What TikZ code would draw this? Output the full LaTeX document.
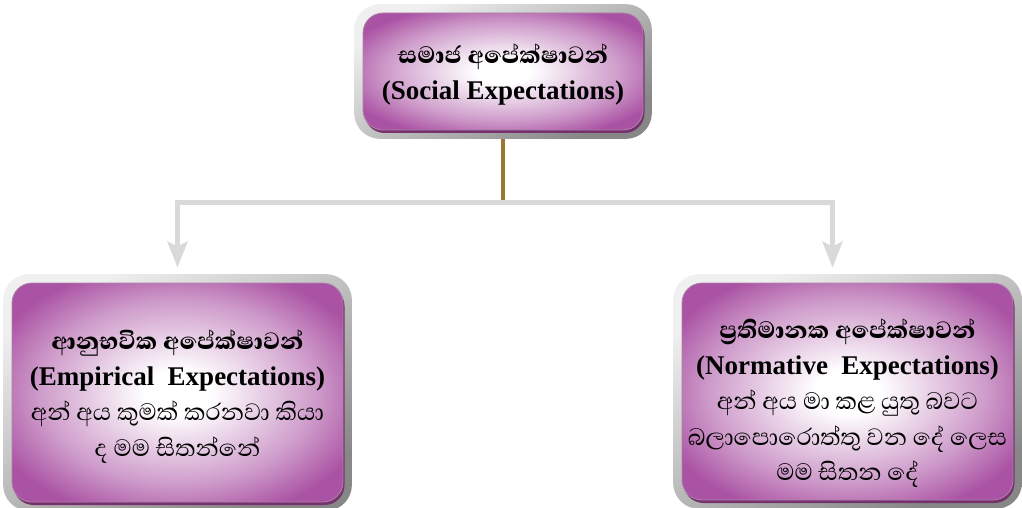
\documentclass[tikz,border=0pt]{standalone}
\usepackage{fontspec}
\setmainfont{Liberation Serif}
\newfontfamily\sinhala[Script=Sinhala,Scale=1.12]{Abhaya Libre}
\newfontfamily\sinhalabold[Script=Sinhala,Scale=1.12]{Abhaya Libre ExtraBold}
\usetikzlibrary{arrows.meta,fit,backgrounds}

\definecolor{exppurple}{RGB}{170,82,163}
\definecolor{expdark}{RGB}{118,50,110}
\definecolor{framelight}{RGB}{240,240,240}
\definecolor{framedark}{RGB}{135,135,135}
\definecolor{linkgray}{RGB}{217,217,217}
\definecolor{linkbrown}{RGB}{156,116,52}

\pgfdeclareradialshading{expglow}{\pgfpoint{0bp}{0bp}}{color(0bp)=(white); color(5bp)=(white); color(21bp)=(exppurple!58!white); color(30bp)=(exppurple); color(50bp)=(exppurple)}

% extra room above the first line, pushes the text block down
\newcommand{\droptext}[2]{\raisebox{0pt}[\dimexpr\height+#1\relax]{#2}}

\begin{document}
\begin{tikzpicture}[x=1pt,y=-1pt,
  expbox/.style={rounded corners=20pt,shade,shading=expglow,draw=expdark!60,line width=0.8pt,
    align=center,inner sep=0pt,font=\fontsize{27}{35.5}\selectfont,
    preaction={fill=expdark,transform canvas={xshift=1.5pt,yshift=-3pt}}},
  expframe/.style={rounded corners=26pt,inner sep=8.5pt,top color=framelight,bottom color=framedark,shading angle=30},
  linkline/.style={draw=linkgray,line width=5pt},
  arrowline/.style={linkline,-{Stealth[length=26pt,width=20pt,inset=5pt]}},
  brownline/.style={draw=linkbrown,line width=4pt}]
  \useasboundingbox (0,0) rectangle (1022,508);

  % boxes
  \node[expbox,minimum width=280pt,minimum height=117pt] (social) at (503,71.5)
    {\droptext{6pt}{\sinhalabold සමාජ අපේක්ෂාවන්}\\{\bfseries (Social Expectations)}};
  \node[expbox,minimum width=331pt,minimum height=219pt] (empirical) at (177.5,392.5)
    {\droptext{8pt}{\sinhalabold ආනුභවික අපේක්ෂාවන්}\\{\bfseries (Empirical\ \ Expectations)}\\
     {\sinhala අන් අය කුමක් කරනවා කියා}\\{\sinhala ද මම සිතන්නේ}};
  \node[expbox,minimum width=331pt,minimum height=217pt] (normative) at (847.5,391.5)
    {\droptext{24pt}{\sinhalabold ප්^^^^200dරතිමානක අපේක්ෂාවන්}\\{\bfseries (Normative\ \ Expectations)}\\
     {\sinhala අන් අය මා කළ යුතු බවට}\\{\sinhala බලාපොරොත්තු වන දේ ලෙස}\\{\sinhala මම සිතන දේ}};

  \begin{scope}[on background layer]
    % links
    \coordinate (split) at (503,202);
    \draw[brownline] (social.south) -- (split);
    \draw[arrowline] (split) -| ([yshift=15pt]empirical.north);
    \draw[arrowline] (split) -| ([xshift=-15pt,yshift=15pt]normative.north);
    % frames
    \node[expframe,fit=(social)] {};
    \node[expframe,fit=(empirical)] {};
    \node[expframe,fit=(normative)] {};
  \end{scope}
\end{tikzpicture}
\end{document}
